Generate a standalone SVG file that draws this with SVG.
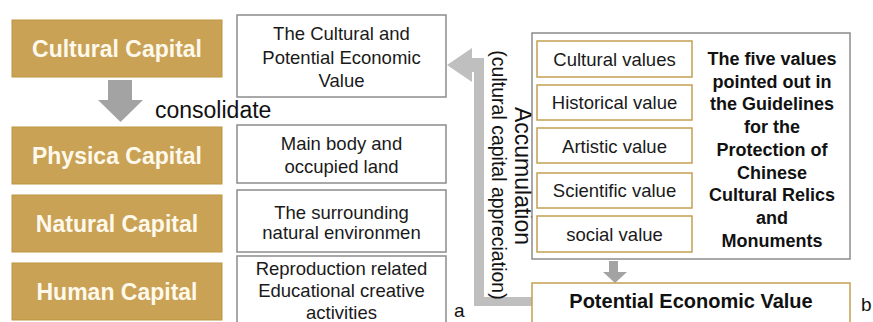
<svg xmlns="http://www.w3.org/2000/svg" width="873" height="322" viewBox="0 0 873 322">
<style>
.cap{fill:#C9A256;stroke:#BC963F;stroke-width:1}
.capt{font-family:"Liberation Sans",Arial,sans-serif;font-weight:bold;font-size:23px;fill:#FFF9EC;text-anchor:middle}
.box{fill:#fff;stroke:#8C8C8C;stroke-width:1.5}
.t{font-family:"Liberation Sans",Arial,sans-serif;font-size:18.5px;fill:#1a1a1a;text-anchor:middle}
.vb{fill:#fff;stroke:#C4A052;stroke-width:1.5}
.b{font-family:"Liberation Sans",Arial,sans-serif;font-weight:bold;font-size:18px;fill:#111;text-anchor:middle}
.pev{font-family:"Liberation Sans",Arial,sans-serif;font-weight:bold;font-size:20px;fill:#111;text-anchor:middle}
.lbl{font-family:"Liberation Sans",Arial,sans-serif;fill:#111}
</style>
<rect width="873" height="322" fill="#fff"/>
<g id="connectors">
<polygon points="108,80 132,80 132,100 143,100 120.5,122 98,100 108,100" fill="#A3A3A3"/>
<polygon points="447,65 472,48 472,58 484,58 484,297 537,297 537,306 474,306 474,72 472,72 472,82" fill="#BFBFBF"/>
<polygon points="609,261 618,261 618,272 627,272 615,283 603,272 609,272" fill="#A3A3A3"/>
<text class="lbl" x="155" y="118" font-size="23">consolidate</text>
<text class="lbl" font-size="19.5" text-anchor="middle" transform="translate(492,175) rotate(90)">(cultural capital appreciation)</text>
<text class="lbl" font-size="23" text-anchor="middle" transform="translate(515,176) rotate(90)">Accumulation</text>
</g>
<g id="cultural-capital"><rect class="cap" x="12" y="20" width="210" height="57"/><text class="capt" x="117" y="57">Cultural Capital</text></g>
<g id="physical-capital"><rect class="cap" x="12" y="127" width="210" height="57"/><text class="capt" x="117" y="164">Physica Capital</text></g>
<g id="natural-capital"><rect class="cap" x="12" y="195" width="210" height="57"/><text class="capt" x="117" y="232">Natural Capital</text></g>
<g id="human-capital"><rect class="cap" x="12" y="263" width="210" height="57"/><text class="capt" x="117" y="300">Human Capital</text></g>
<g id="cultural-potential-value"><rect class="box" x="237" y="15" width="209" height="82"/><text class="t" x="341.5" y="40">The Cultural and</text><text class="t" x="341.5" y="63.5">Potential Economic</text><text class="t" x="341.5" y="87">Value</text></g>
<g id="main-body"><rect class="box" x="237" y="125" width="209" height="58"/><text class="t" x="341.5" y="150">Main body and</text><text class="t" x="341.5" y="173">occupied land</text></g>
<g id="surrounding"><rect class="box" x="237" y="190" width="209" height="62"/><text class="t" x="341.5" y="218.5">The surrounding</text><text class="t" x="341.5" y="238.5">natural environmen</text></g>
<g id="reproduction"><rect class="box" x="237" y="256" width="209" height="75"/><text class="t" x="341.5" y="274.5">Reproduction related</text><text class="t" x="341.5" y="297">Educational creative</text><text class="t" x="341.5" y="318.5">activities</text></g>
<g id="five-values"><rect class="box" x="532" y="33" width="318" height="226"/>
<text class="b" x="772" y="64.5">The five values</text>
<text class="b" x="772" y="87.5">pointed out in</text>
<text class="b" x="772" y="110">the Guidelines</text>
<text class="b" x="772" y="132.5">for the</text>
<text class="b" x="772" y="155.5">Protection of</text>
<text class="b" x="772" y="178.5">Chinese</text>
<text class="b" x="772" y="201">Cultural Relics</text>
<text class="b" x="772" y="223.5">and</text>
<text class="b" x="772" y="246.5">Monuments</text>
</g>
<g id="cultural-values"><rect class="vb" x="537" y="41" width="155" height="36"/><text class="t" x="614.5" y="65.5">Cultural values</text></g>
<g id="historical-value"><rect class="vb" x="537" y="85" width="155" height="35"/><text class="t" x="614.5" y="109">Historical value</text></g>
<g id="artistic-value"><rect class="vb" x="537" y="128" width="155" height="35"/><text class="t" x="614.5" y="152.5">Artistic value</text></g>
<g id="scientific-value"><rect class="vb" x="537" y="173" width="155" height="35"/><text class="t" x="614.5" y="196.5">Scientific value</text></g>
<g id="social-value"><rect class="vb" x="537" y="216" width="155" height="36"/><text class="t" x="614.5" y="240.5">social value</text></g>
<g id="potential-economic-value"><rect class="vb" x="532" y="283" width="318" height="45"/><text class="pev" x="691" y="308">Potential Economic Value</text></g>
<g id="labels"><text class="lbl" x="454" y="317" font-size="19">a</text><text class="lbl" x="861" y="311" font-size="19">b</text></g>
</svg>
